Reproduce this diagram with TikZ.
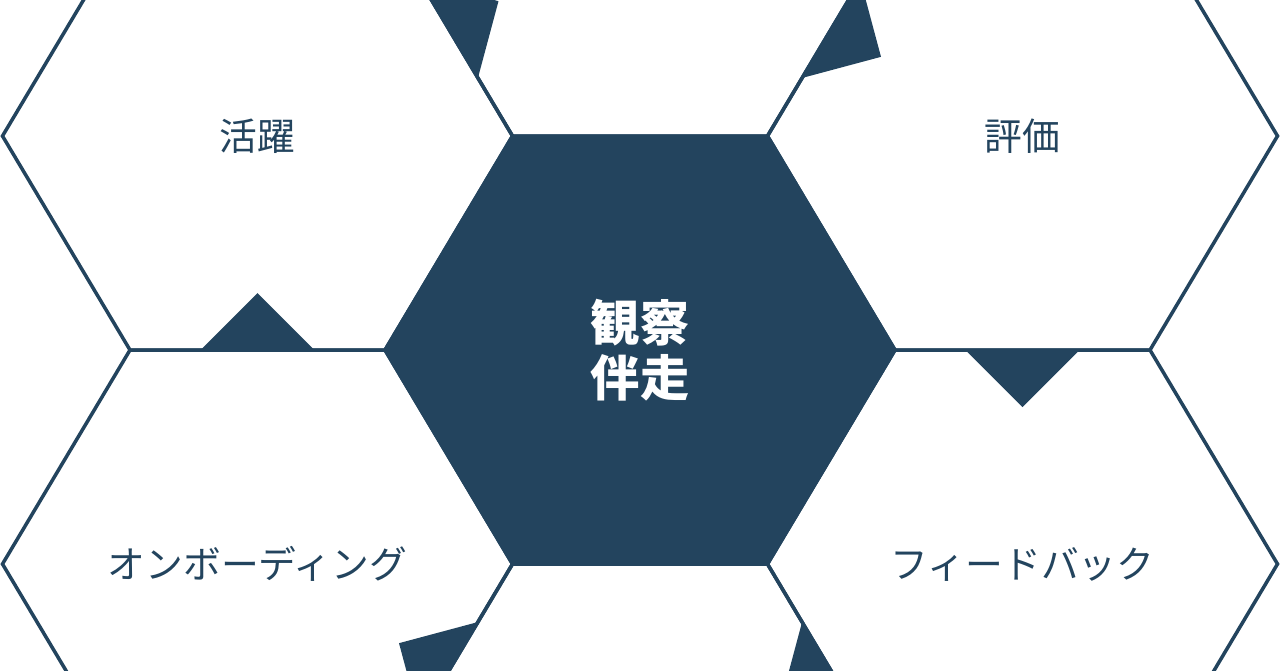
\documentclass[tikz,border=0pt]{standalone}
\usepackage{fontspec}
\usetikzlibrary{calc}
\newfontfamily\cjk{Noto Sans CJK JP}
\definecolor{hexblue}{RGB}{35,68,94}

\tikzset{
  hexline/.style={draw=hexblue, line width=2pt, line join=miter},
  notch/.style={fill=hexblue},
  cell/.style={font=\cjk\fontsize{21.5}{25}\selectfont, text=hexblue},
  core/.style={font=\cjk\bfseries\fontsize{28}{31}\selectfont, text=white, align=center},
}

\begin{document}
\begin{tikzpicture}[x=0.2mm, y=-0.2mm]
  \useasboundingbox (0,0) rectangle (1280,670);
  \clip (0,0) rectangle (1280,670);

  % cell centres
  \coordinate (c)  at (640,350);
  \coordinate (t)  at (640,-78);
  \coordinate (b)  at (640,778);
  \coordinate (tl) at (257.5,136);
  \coordinate (tr) at (1022.5,136);
  \coordinate (bl) at (257.5,564);
  \coordinate (br) at (1022.5,564);

  % corners of the centre cell
  \coordinate (c1) at (512.5,136);
  \coordinate (c2) at (767.5,136);
  \coordinate (c3) at (895,350);
  \coordinate (c4) at (767.5,564);
  \coordinate (c5) at (512.5,564);
  \coordinate (c6) at (385,350);

  \foreach \p in {t,tl,tr,bl,br,b}
    \draw[hexline] ($(\p)+(-255,0)$) -- ($(\p)+(-127.5,-214)$) -- ($(\p)+(127.5,-214)$)
      -- ($(\p)+(255,0)$) -- ($(\p)+(127.5,214)$) -- ($(\p)+(-127.5,214)$) -- cycle;

  \filldraw[hexline, fill=hexblue] (c1) -- (c2) -- (c3) -- (c4) -- (c5) -- (c6) -- cycle;

  % notches, clockwise
  \foreach \v/\d in {c1/t, c2/tr, c3/br, c4/b, c5/bl, c6/tl} {
    \coordinate (m) at ($(c)!1.5!(\v)$);
    \fill[notch] ($(m)!11.4mm!(\v)$) -- ($(m)!11.4mm!(\d)$) -- ($(m)!-11.4mm!(\v)$) -- cycle;
  }

  \node[cell] (katsuyaku) at (tl) {活躍};
  \node[cell] (hyoka) at (tr) {評価};
  \node[cell] (onboard) at (bl) {オンボーディング};
  \node[cell] (feedback) at (br) {フィードバック};
  \node[core] (kansatsu) at (c) {観察\\伴走};
\end{tikzpicture}
\end{document}
